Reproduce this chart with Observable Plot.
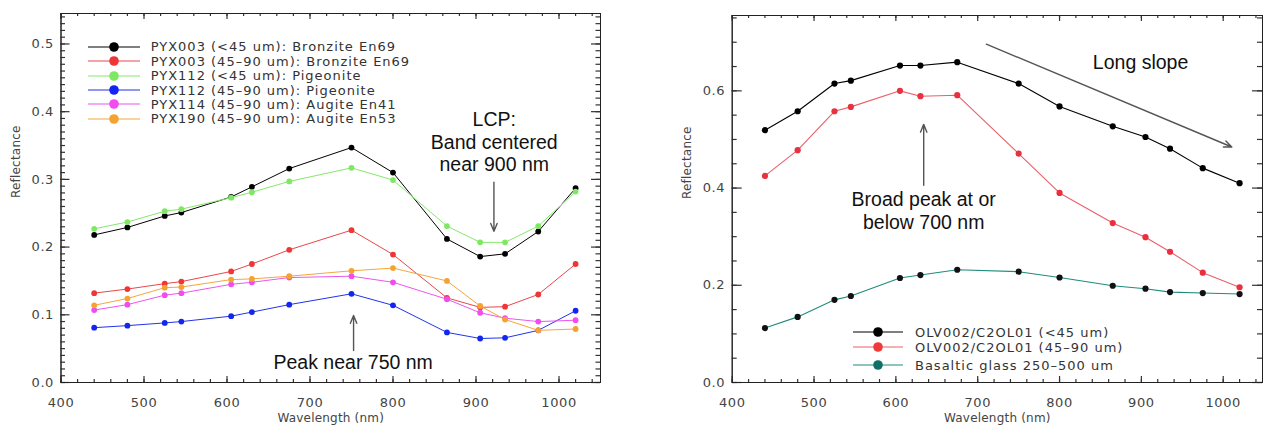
<!DOCTYPE html>
<html><head><meta charset="utf-8">
<script src="https://cdn.jsdelivr.net/npm/d3@7"></script>
<script src="https://cdn.jsdelivr.net/npm/@observablehq/plot@0.6"></script>
<style>
body{margin:0;background:#fff;}
#wrap{position:relative;width:1264px;height:431px;overflow:hidden;background:#fff;}
#wrap > svg{position:absolute;top:0;}
.legend{position:absolute;left:0;top:0;width:1264px;height:431px;pointer-events:none;font-family:"DejaVu Sans";font-size:13px;letter-spacing:1px;color:#333;}
.legend .row{position:absolute;height:14px;display:flex;align-items:center;white-space:nowrap;}
.legend svg{display:block;}
g[font-family="Liberation Sans"] text{letter-spacing:0;}
g[font-family="DejaVu Sans"] text{letter-spacing:0.2px;}
</style></head>
<body>
<div id="wrap"></div>
<script>
// ---- data ----
const wavelengths = [440, 480, 525, 545, 605, 630, 675, 750, 800, 865, 905, 935, 975, 1020];

// left panel: pyroxenes
const pyx003Fine   = [0.218,0.229,0.246,0.251,0.274,0.289,0.316,0.347,0.310,0.212,0.186,0.190,0.223,0.287];
const pyx003Coarse = [0.132,0.138,0.146,0.149,0.164,0.175,0.196,0.225,0.189,0.125,0.111,0.112,0.130,0.175];
const pyx112Fine   = [0.227,0.237,0.253,0.256,0.273,0.281,0.297,0.317,0.299,0.231,0.207,0.207,0.231,0.282];
const pyx112Coarse = [0.081,0.084,0.088,0.090,0.098,0.104,0.115,0.131,0.114,0.074,0.065,0.066,0.077,0.106];
const pyx114Coarse = [0.107,0.115,0.129,0.132,0.145,0.148,0.155,0.157,0.148,0.123,0.103,0.095,0.090,0.092];
const pyx190Coarse = [0.114,0.124,0.140,0.141,0.152,0.153,0.157,0.165,0.169,0.150,0.113,0.093,0.077,0.079];
const leftNames = ["PYX003 (<45 um): Bronzite En69","PYX003 (45\u201390 um): Bronzite En69","PYX112 (<45 um): Pigeonite","PYX112 (45\u201390 um): Pigeonite","PYX114 (45\u201390 um): Augite En41","PYX190 (45\u201390 um): Augite En53"];
const leftValues = [pyx003Fine, pyx003Coarse, pyx112Fine, pyx112Coarse, pyx114Coarse, pyx190Coarse];

// right panel: olivine + glass
const olvFine   = [0.519,0.558,0.615,0.621,0.652,0.652,0.659,0.615,0.568,0.527,0.505,0.481,0.441,0.410];
const olvCoarse = [0.425,0.478,0.558,0.567,0.600,0.589,0.591,0.471,0.390,0.328,0.299,0.269,0.226,0.196];
const basaltGlass = [0.112,0.135,0.170,0.178,0.215,0.221,0.232,0.228,0.216,0.199,0.193,0.186,0.184,0.182];
const rightNames = ["OLV002/C2OL01 (<45 um)","OLV002/C2OL01 (45\u201390 um)","Basaltic glass 250\u2013500 um"];
const rightValues = [olvFine, olvCoarse, basaltGlass];

// ticks
const xTickLabels = [400, 500, 600, 700, 800, 900, 1000];
const yTickLabelsLeft = [0, 0.1, 0.2, 0.3, 0.4, 0.5];
const yTickLabelsRight = [0, 0.2, 0.4, 0.6];

// annotations
const leftNotes = [
  {x: 922, y: 0.356, text: "LCP:\nBand centered\nnear 900 nm"},
  {x: 752, y: 0.031, text: "Peak near 750 nm"}
];
const leftArrows = [
  {x1: 921.6, y1: 0.296, x2: 921.6, y2: 0.2234},
  {x1: 752.5, y1: 0.0473, x2: 752.5, y2: 0.099}
];
const rightNotes = [
  {x: 899, y: 0.659, text: "Long slope"},
  {x: 634, y: 0.354, text: "Broad peak at or\nbelow 700 nm"}
];
const rightArrows = [
  {x1: 710.5, y1: 0.696, x2: 1010.5, y2: 0.4845},
  {x1: 634, y1: 0.4056, x2: 634, y2: 0.531}
];

// ---- styles ----
const leftLine = ["#000000","#e8484a","#84e86c","#2233ee","#ee55ee","#f4a73c"];
const leftDot  = ["#000000","#ef3535","#7ee862","#1326f0","#f04cf0","#f5a330"];
const rightLine = ["#000000","#e8606a","#1f8c7c"];
const rightDot  = ["#000000","#e8303e","#111111"];
const rightLegendDot = ["#000000","#ef3a3a","#0f7068"];

function table(values) {
  return values.map((v, i) => ({w: wavelengths[i], r: v}));
}

// inward ticks on all four sides, as short rules anchored to the frame edges
function tickRules(values, axis, side, len, fw, fh) {
  const o = {stroke: "#333", strokeWidth: 1.2};
  if (axis === "x") {
    if (side === "bottom") o.insetTop = fh - len; else o.insetBottom = fh - len;
    return Plot.ruleX(values, {x: d => d, ...o});
  } else {
    if (side === "left") o.insetRight = fw - len; else o.insetLeft = fw - len;
    return Plot.ruleY(values, {y: d => d, ...o});
  }
}

function tickMarks(xMax, yMinorStep, yMax, yMajorLen, yMinorLen, yLabels, fw, fh) {
  const xMinor = d3.range(400, xMax + 0.001, 20);
  const yMinor = d3.range(0, yMax + 1e-6, yMinorStep).map(v => +v.toFixed(3));
  const marks = [];
  for (const s of ["bottom", "top"]) {
    marks.push(tickRules(xMinor, "x", s, 3, fw, fh));
    marks.push(tickRules(xTickLabels, "x", s, 6, fw, fh));
  }
  for (const s of ["left", "right"]) {
    marks.push(tickRules(yMinor, "y", s, yMinorLen, fw, fh));
    marks.push(tickRules(yLabels, "y", s, yMajorLen, fw, fh));
  }
  marks.push(Plot.frame({stroke: "#222"}));
  return marks;
}

function labelMarks(yLabels) {
  return [
    Plot.axisX({anchor: "bottom", ticks: xTickLabels, tickSize: 0, tickPadding: 15, tickFormat: d => String(d), label: null}),
    Plot.axisY({anchor: "left", ticks: yLabels, tickSize: 0, tickPadding: 7, tickFormat: d3.format(".1f"), label: null}),
    Plot.text(["Wavelength (nm)"], {frameAnchor: "bottom", dy: 39, fontFamily: "DejaVu Sans", fontSize: 12, fill: "#444"}),
    Plot.text(["Reflectance"], {frameAnchor: "left", rotate: -90, dx: -45, fontFamily: "DejaVu Sans", fontSize: 12, fill: "#444"})
  ];
}

function annotations(notes, arrows) {
  return [
    Plot.arrow(arrows, {x1: "x1", y1: "y1", x2: "x2", y2: "y2", stroke: "#555", strokeWidth: 1.4, headLength: 9, headAngle: 45}),
    Plot.text(notes, {x: "x", y: "y", text: "text", fontFamily: "Liberation Sans", fontSize: 19.5, lineHeight: 1.15, lineAnchor: "middle", fill: "#111"})
  ];
}

const common = {
  height: 431,
  style: {fontFamily: "DejaVu Sans", fontSize: "13px", color: "#444", background: "white", letterSpacing: "0.6px", overflow: "visible"}
};

const LP = {width: 630, ml: 60.5, mr: 30, mt: 13, mb: 49, xd: [400, 1050], yd: [0, 0.545]};
const RP = {width: 634, ml: 101.7, mr: 2, mt: 15, mb: 49, xd: [400, 1048], yd: [0, 0.755]};

function dims(P) {
  return {width: P.width, marginLeft: P.ml, marginRight: P.mr, marginTop: P.mt, marginBottom: P.mb};
}

// left plot
const leftMarks = [];
leftValues.forEach((vals, i) => {
  leftMarks.push(Plot.line(table(vals), {x: "w", y: "r", stroke: leftLine[i], strokeWidth: 1}));
  leftMarks.push(Plot.dot(table(vals), {x: "w", y: "r", fill: leftDot[i], r: 2.9}));
});
const left = Plot.plot({
  ...common, ...dims(LP),
  x: {domain: LP.xd},
  y: {domain: LP.yd},
  marks: [...labelMarks(yTickLabelsLeft), Plot.frame({stroke: "#222"}), ...leftMarks, ...annotations(leftNotes, leftArrows)]
});
left.style.left = "0px";

// right plot
const rightMarks = [];
rightValues.forEach((vals, i) => {
  rightMarks.push(Plot.line(table(vals), {x: "w", y: "r", stroke: rightLine[i], strokeWidth: 1.1}));
  rightMarks.push(Plot.dot(table(vals), {x: "w", y: "r", fill: rightDot[i], r: 3.1}));
});
const right = Plot.plot({
  ...common, ...dims(RP),
  x: {domain: RP.xd},
  y: {domain: RP.yd},
  marks: [...labelMarks(yTickLabelsRight), Plot.frame({stroke: "#222"}), ...rightMarks, ...annotations(rightNotes, rightArrows)]
});
right.style.left = "630px";

// tick overlays: same scales, transparent, only frame + inward ticks
function tickOverlay(P, yStep, yLabels, majorLen, minorLen) {
  const fw = P.width - P.ml - P.mr, fh = 431 - P.mt - P.mb;
  const svg = Plot.plot({
    height: 431, ...dims(P),
    style: {background: "transparent", overflow: "visible"},
    x: {domain: P.xd, axis: null},
    y: {domain: P.yd, axis: null},
    marks: tickMarks(P.xd[1], yStep, P.yd[1], majorLen, minorLen, yLabels, fw, fh)
  });
  svg.style.pointerEvents = "none";
  return svg;
}
const leftTicks = tickOverlay(LP, 0.01, yTickLabelsLeft, 9, 4.5);
leftTicks.style.left = "0px";
const rightTicks = tickOverlay(RP, 0.05, yTickLabelsRight, 10, 5);
rightTicks.style.left = "630px";

const wrap = document.getElementById("wrap");
wrap.appendChild(left);
wrap.appendChild(right);
wrap.appendChild(leftTicks);
wrap.appendChild(rightTicks);

// legends (inside plot frames)
function legend(names, lineColors, dotColors, lineStart, lineLen, textStart, rowCenters) {
  const div = document.createElement("div");
  div.className = "legend";
  names.forEach((name, i) => {
    const row = document.createElement("div");
    row.className = "row";
    row.style.left = lineStart + "px";
    row.style.top = (rowCenters[i] - 7) + "px";
    const w = textStart - lineStart;
    const svg = d3.create("svg").attr("width", w).attr("height", 14);
    svg.append("line").attr("x1", 0).attr("x2", lineLen).attr("y1", 7).attr("y2", 7)
      .attr("stroke", lineColors[i]).attr("stroke-width", 1.2);
    svg.append("circle").attr("cx", lineLen / 2).attr("cy", 7).attr("r", 4.8).attr("fill", dotColors[i]);
    row.appendChild(svg.node());
    const span = document.createElement("span");
    span.textContent = name;
    row.appendChild(span);
    div.appendChild(row);
  });
  return div;
}
wrap.appendChild(legend(leftNames, leftLine, leftDot, 88, 52, 150.7, [46.7, 61, 75.5, 90, 104.3, 118.5]));
wrap.appendChild(legend(rightNames, rightLine, rightLegendDot, 853.3, 50, 915, [332, 347, 365]));
</script>
</body></html>
